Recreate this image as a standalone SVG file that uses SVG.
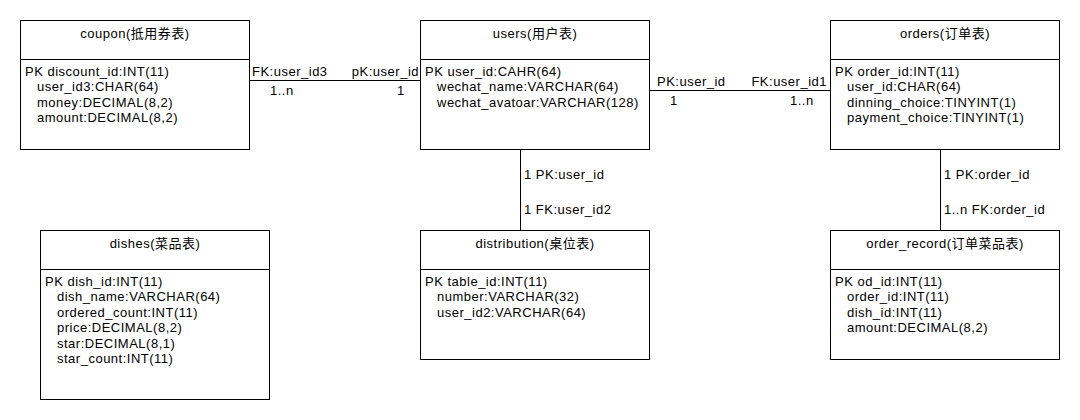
<svg xmlns="http://www.w3.org/2000/svg" width="1080" height="420" viewBox="0 0 1080 420">
  <style>
    .box { fill: #ffffff; stroke: #000000; stroke-width: 1; }
    .sep { stroke: #000000; stroke-width: 1; }
    .link { stroke: #000000; stroke-width: 1; fill: none; }
    text { font-family: "Liberation Sans", Arial, "Noto Sans CJK SC", sans-serif; font-size: 13px; letter-spacing: 0.5px; fill: #000000; }
    .title { text-anchor: middle; }
    .end { text-anchor: end; }
  </style>
  <rect width="1080" height="420" fill="#ffffff"/>

  <!-- relationship lines and their role labels -->
  <g id="connectors">
    <line class="link" x1="249.5" y1="80.5" x2="420.5" y2="80.5"/>
    <text x="252" y="76">FK:user_id3</text>
    <text class="end" x="419" y="76">pK:user_id</text>
    <text x="270" y="95">1..n</text>
    <text x="397" y="95">1</text>

    <line class="link" x1="649.5" y1="90.5" x2="830.5" y2="90.5"/>
    <text x="657" y="86">PK:user_id</text>
    <text class="end" x="827" y="86">FK:user_id1</text>
    <text x="670" y="105">1</text>
    <text x="790" y="105">1..n</text>

    <line class="link" x1="520.5" y1="149" x2="520.5" y2="230"/>
    <text x="524" y="179">1 PK:user_id</text>
    <text x="524" y="214">1 FK:user_id2</text>

    <line class="link" x1="940.5" y1="149" x2="940.5" y2="230"/>
    <text x="944" y="179">1 PK:order_id</text>
    <text x="944" y="214">1..n FK:order_id</text>
  </g>

  <g id="coupon">
    <rect class="box" x="20.5" y="20.5" width="229" height="129"/>
    <line class="sep" x1="20.5" y1="59.5" x2="249.5" y2="59.5"/>
    <text class="title" x="135" y="38">coupon(抵用券表)</text>
    <text x="25" y="76">PK discount_id:INT(11)</text>
    <text x="37" y="91.4">user_id3:CHAR(64)</text>
    <text x="37" y="106.8">money:DECIMAL(8,2)</text>
    <text x="37" y="122.2">amount:DECIMAL(8,2)</text>
  </g>

  <g id="users">
    <rect class="box" x="420.5" y="20.5" width="229" height="129"/>
    <line class="sep" x1="420.5" y1="59.5" x2="649.5" y2="59.5"/>
    <text class="title" x="535" y="38">users(用户表)</text>
    <text x="425" y="76">PK user_id:CAHR(64)</text>
    <text x="437" y="91.4">wechat_name:VARCHAR(64)</text>
    <text x="437" y="106.8">wechat_avatoar:VARCHAR(128)</text>
  </g>

  <g id="orders">
    <rect class="box" x="830.5" y="20.5" width="229" height="129"/>
    <line class="sep" x1="830.5" y1="59.5" x2="1059.5" y2="59.5"/>
    <text class="title" x="945" y="38">orders(订单表)</text>
    <text x="835" y="76">PK order_id:INT(11)</text>
    <text x="847" y="91.4">user_id:CHAR(64)</text>
    <text x="847" y="106.8">dinning_choice:TINYINT(1)</text>
    <text x="847" y="122.2">payment_choice:TINYINT(1)</text>
  </g>

  <g id="dishes">
    <rect class="box" x="40.5" y="230.5" width="229" height="169"/>
    <line class="sep" x1="40.5" y1="269.5" x2="269.5" y2="269.5"/>
    <text class="title" x="155" y="248">dishes(菜品表)</text>
    <text x="45" y="286">PK dish_id:INT(11)</text>
    <text x="57" y="301.4">dish_name:VARCHAR(64)</text>
    <text x="57" y="316.8">ordered_count:INT(11)</text>
    <text x="57" y="332.2">price:DECIMAL(8,2)</text>
    <text x="57" y="347.6">star:DECIMAL(8,1)</text>
    <text x="57" y="363">star_count:INT(11)</text>
  </g>

  <g id="distribution">
    <rect class="box" x="420.5" y="230.5" width="229" height="129"/>
    <line class="sep" x1="420.5" y1="269.5" x2="649.5" y2="269.5"/>
    <text class="title" x="535" y="248">distribution(桌位表)</text>
    <text x="425" y="286">PK table_id:INT(11)</text>
    <text x="437" y="301.4">number:VARCHAR(32)</text>
    <text x="437" y="316.8">user_id2:VARCHAR(64)</text>
  </g>

  <g id="order_record">
    <rect class="box" x="830.5" y="230.5" width="229" height="129"/>
    <line class="sep" x1="830.5" y1="269.5" x2="1059.5" y2="269.5"/>
    <text class="title" x="945" y="248">order_record(订单菜品表)</text>
    <text x="835" y="286">PK od_id:INT(11)</text>
    <text x="847" y="301.4">order_id:INT(11)</text>
    <text x="847" y="316.8">dish_id:INT(11)</text>
    <text x="847" y="332.2">amount:DECIMAL(8,2)</text>
  </g>
</svg>
